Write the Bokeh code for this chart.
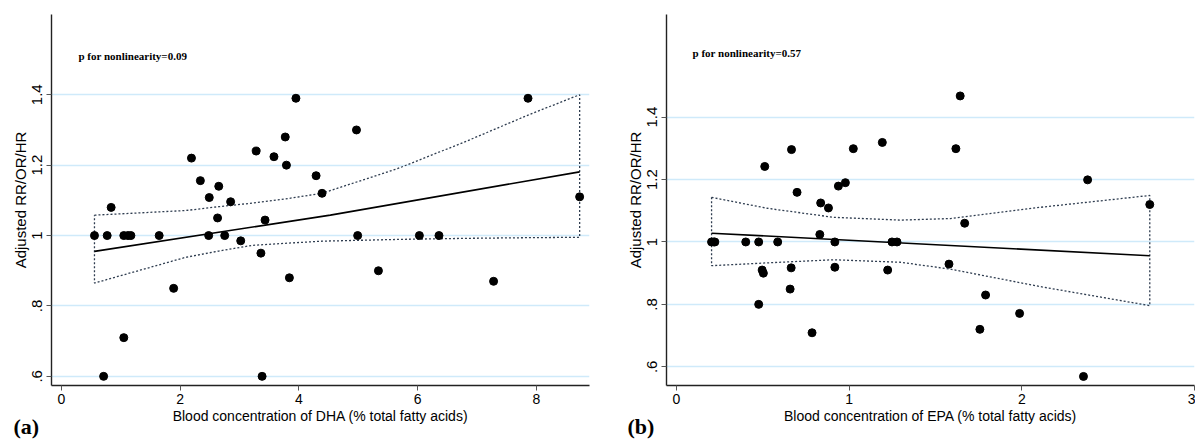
from bokeh.plotting import figure
from bokeh.layouts import row
from bokeh.models import Range1d, FixedTicker, CustomJSTickFormatter, Label, Title
from bokeh.embed import file_html
from bokeh.resources import INLINE

# ---------------- data: panel (a) DHA ----------------
dha_x = [0.556, 0.77, 0.837, 1.05, 1.12, 1.17, 1.646, 1.89, 2.19, 2.34, 2.49, 2.65, 2.63,
         2.48, 2.75, 2.85, 3.02, 3.28, 3.36, 3.43, 3.38, 3.58, 3.77, 3.79, 3.84, 3.95,
         0.71, 1.05, 4.97, 4.29, 4.39, 4.99, 5.34, 6.03, 6.36, 7.28, 7.86, 8.73]
dha_y = [1.0, 1.0, 1.08, 1.0, 1.0, 1.0, 1.0, 0.85, 1.22, 1.156, 1.108, 1.14, 1.05,
         1.0, 1.0, 1.096, 0.985, 1.24, 0.95, 1.044, 0.6, 1.224, 1.28, 1.2, 0.88, 1.39,
         0.6, 0.71, 1.30, 1.17, 1.12, 1.0, 0.90, 1.0, 1.0, 0.87, 1.39, 1.11]
dha_fit_x = [0.556, 4.53, 8.73]
dha_fit_y = [0.955, 1.058, 1.181]
dha_ci_x = [0.556, 2.09, 2.65, 3.21, 3.77, 4.39, 5.66, 6.78, 7.90, 8.73]
dha_ci_upper = [1.058, 1.071, 1.082, 1.092, 1.104, 1.12, 1.19, 1.265, 1.345, 1.40]
dha_ci_lower = [0.865, 0.938, 0.956, 0.972, 0.978, 0.984, 0.989, 0.992, 0.994, 0.995]
dha_xticks = [0, 2, 4, 6, 8]

# ---------------- data: panel (b) EPA ----------------
epa_x = [0.203, 0.216, 0.222, 0.401, 0.476, 0.476, 0.496, 0.503, 0.511, 0.586, 0.666,
         0.664, 0.658, 0.698, 0.785, 0.835, 0.83, 0.88, 0.917, 0.917, 0.9375, 0.978,
         1.024, 1.192, 1.223, 1.248, 1.277, 1.643, 1.618, 1.669, 1.578, 1.79, 1.757,
         1.987, 2.381, 2.357, 2.741]
epa_y = [1.0, 1.0, 1.0, 1.0, 1.0, 0.8, 0.91, 0.90, 1.242, 1.0, 1.296,
         0.917, 0.849, 1.159, 0.709, 1.125, 1.024, 1.109, 1.0, 0.919, 1.179, 1.19,
         1.299, 1.319, 0.91, 1.0, 1.0, 1.468, 1.299, 1.06, 0.929, 0.83, 0.72,
         0.771, 1.199, 0.569, 1.12]
epa_fit_x = [0.203, 2.741]
epa_fit_y = [1.028, 0.956]
epa_ci_x = [0.203, 0.525, 0.91, 1.296, 1.586, 2.106, 2.741]
epa_ci_upper = [1.143, 1.108, 1.079, 1.070, 1.075, 1.111, 1.149]
epa_ci_lower = [0.924, 0.933, 0.943, 0.935, 0.913, 0.857, 0.796]
epa_xticks = [0, 1, 2, 3]

yticks = [0.6, 0.8, 1.0, 1.2, 1.4]

SANS = "Liberation Sans"
SERIF = "Liberation Serif"
GRID = "#cfeafa"


def make_panel(width, bl, br, xr, yr, xs, ys, fx, fy, cx, cu, cl, xticks,
               xlabel, ptext, ppos, tag, tag_offset):
    p = figure(width=width, height=441, output_backend="svg", toolbar_location=None,
               x_range=Range1d(*xr), y_range=Range1d(*yr),
               min_border_left=bl, min_border_right=br, min_border_top=14,
               min_border_bottom=56)
    p.outline_line_color = None
    p.background_fill_color = "white"
    p.border_fill_color = "white"
    p.xgrid.visible = False
    p.ygrid.ticker = FixedTicker(ticks=yticks)
    p.ygrid.grid_line_color = GRID
    p.ygrid.grid_line_width = 1.3

    # axes
    p.yaxis.ticker = FixedTicker(ticks=yticks)
    p.yaxis.formatter = CustomJSTickFormatter(
        code="var s = tick.toFixed(1); s = s.replace(/^0/, ''); return s.replace(/\\.0$/, '');")
    p.yaxis.major_label_orientation = "vertical"
    p.yaxis.axis_label = "Adjusted RR/OR/HR"
    p.xaxis.ticker = FixedTicker(ticks=xticks)
    p.xaxis.axis_label = xlabel
    for ax in (p.xaxis[0], p.yaxis[0]):
        ax.axis_line_color = "#222222"
        ax.axis_line_width = 1.4
        ax.major_tick_line_color = "#555555"
        ax.major_tick_line_width = 1
        ax.major_tick_out = 5
        ax.major_tick_in = 0
        ax.minor_tick_line_color = None
        ax.major_label_text_font = SANS
        ax.major_label_text_color = "black"
        ax.axis_label_text_font = SANS
        ax.axis_label_text_font_style = "normal"
        ax.axis_label_text_color = "black"
    p.xaxis.major_label_text_font_size = "14px"
    p.xaxis.axis_label_text_font_size = "14px"
    p.xaxis.major_label_standoff = 3
    p.xaxis.axis_label_standoff = 1
    p.yaxis.major_label_text_font_size = "15px"
    p.yaxis.axis_label_text_font_size = "15px"
    p.yaxis.major_label_standoff = 4
    p.yaxis.axis_label_standoff = 1

    # CI polygon (dotted)
    px = cx + cx[::-1] + [cx[0]]
    py = cu + cl[::-1] + [cu[0]]
    p.line(px, py, line_color="#2f3d50", line_width=1.3, line_dash="2 2")
    # fitted line
    p.line(fx, fy, line_color="black", line_width=1.6)
    # points
    p.scatter(xs, ys, size=8, marker="circle", fill_color="black", line_color="black")

    p.add_layout(Label(x=ppos[0], y=ppos[1], text=ptext, text_font=SERIF,
                       text_font_style="bold", text_font_size="11px",
                       text_baseline="middle", text_align="left", text_color="black"))
    p.add_layout(Title(text=tag, align="left", vertical_align="top", offset=tag_offset,
                       standoff=-26, text_font=SERIF, text_font_style="bold",
                       text_font_size="22px", text_color="black"), "below")
    return p


p1 = make_panel(600, 51, 11, (-0.168, 8.896), (0.574, 1.628), dha_x, dha_y,
                dha_fit_x, dha_fit_y, dha_ci_x, dha_ci_upper, dha_ci_lower, dha_xticks,
                "Blood concentration of DHA (% total fatty acids)",
                "p for nonlinearity=0.09", (0.286, 1.509), "(a)", -38)
p2 = make_panel(595, 66, 1, (-0.058, 3.0), (0.54, 1.729), epa_x, epa_y,
                epa_fit_x, epa_fit_y, epa_ci_x, epa_ci_upper, epa_ci_lower, epa_xticks,
                "Blood concentration of EPA (% total fatty acids)",
                "p for nonlinearity=0.57", (0.093, 1.607), "(b)", -39)

layout = row(p1, p2)
open("out.html", "w").write(file_html(layout, INLINE))
